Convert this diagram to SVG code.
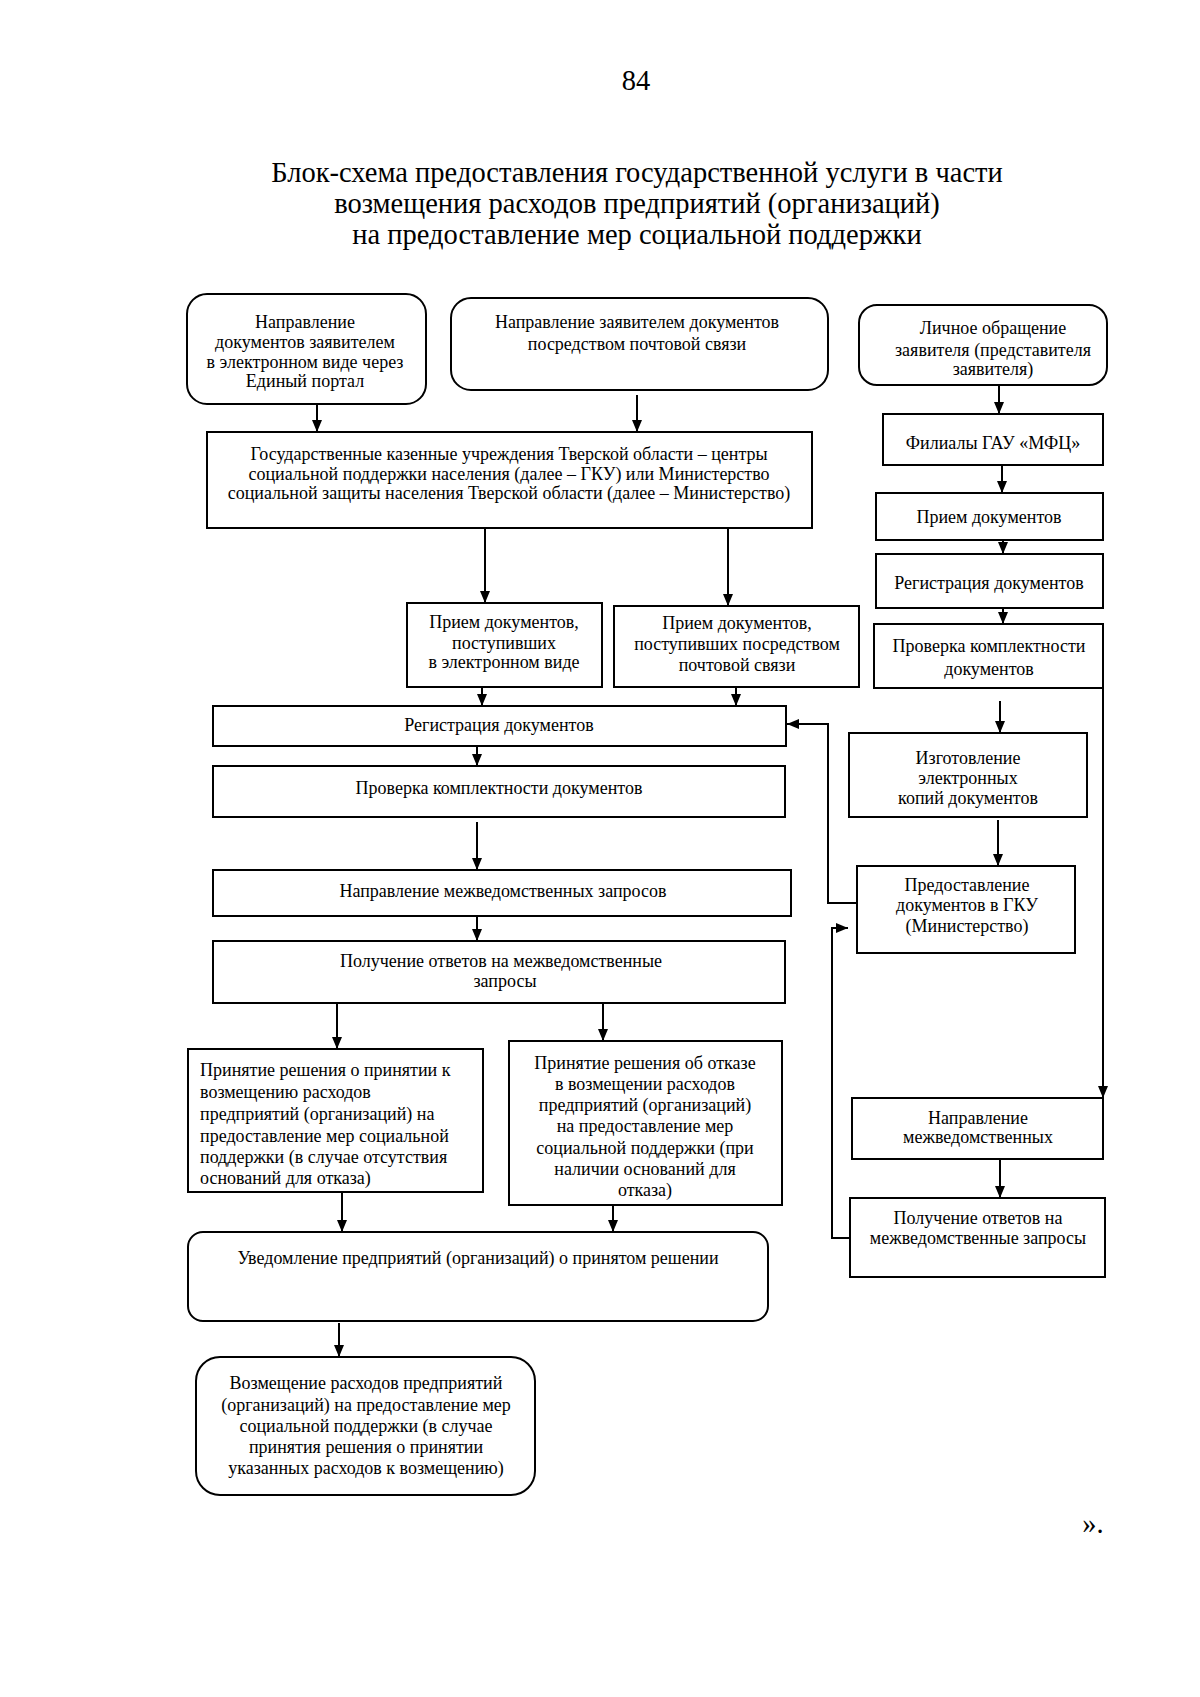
<svg xmlns="http://www.w3.org/2000/svg" width="1200" height="1697" viewBox="0 0 1200 1697">
<style>
.bx{fill:#fff;stroke:#000;stroke-width:2}
.t{font-family:"Liberation Serif","Times New Roman",serif;font-size:18px;fill:#000;text-anchor:middle}
.tl{text-anchor:start}
.ttl{font-family:"Liberation Serif","Times New Roman",serif;font-size:28.5px;fill:#000;text-anchor:middle}
.c{fill:none;stroke:#000;stroke-width:2}
</style>
<defs>
<marker id="ah" viewBox="0 0 12 10" markerWidth="12" markerHeight="10" refX="12" refY="5" orient="auto" markerUnits="userSpaceOnUse">
<path d="M0,0 L12,5 L0,10 z" fill="#000"/>
</marker>
</defs>
<rect width="1200" height="1697" fill="#fff"/>
<text class="ttl" x="636" y="90" font-size="26">84</text>
<text class="ttl" x="637" y="182">Блок-схема предоставления государственной услуги в части</text>
<text class="ttl" x="637" y="213">возмещения расходов предприятий (организаций)</text>
<text class="ttl" x="637" y="244">на предоставление мер социальной поддержки</text>

<g id="n1"><rect class="bx" x="187" y="294" width="239" height="110" rx="20"/>
<text class="t" x="305"><tspan x="305" y="328">Направление</tspan><tspan x="305" y="348">документов заявителем</tspan><tspan x="305" y="368">в электронном виде через</tspan><tspan x="305" y="387">Единый портал</tspan></text></g>
<g id="n2"><rect class="bx" x="451" y="298" width="377" height="92" rx="20"/>
<text class="t" x="637"><tspan x="637" y="328">Направление заявителем документов</tspan><tspan x="637" y="350">посредством почтовой связи</tspan></text></g>
<g id="n3"><rect class="bx" x="859" y="305" width="248" height="80" rx="18"/>
<text class="t" x="993"><tspan x="993" y="334">Личное обращение</tspan><tspan x="993" y="356">заявителя (представителя</tspan><tspan x="993" y="375">заявителя)</tspan></text></g>
<g id="n4"><rect class="bx" x="207" y="432" width="605" height="96"/>
<text class="t" x="509"><tspan x="509" y="460">Государственные казенные учреждения Тверской области – центры</tspan><tspan x="509" y="480">социальной поддержки населения (далее – ГКУ) или Министерство</tspan><tspan x="509" y="499">социальной защиты населения Тверской области (далее – Министерство)</tspan></text></g>
<g id="n5"><rect class="bx" x="883" y="414" width="220" height="51"/>
<text class="t" x="993" y="449">Филиалы ГАУ «МФЦ»</text></g>
<g id="n6"><rect class="bx" x="876" y="493" width="227" height="47"/>
<text class="t" x="989" y="523">Прием документов</text></g>
<g id="n7"><rect class="bx" x="876" y="554" width="227" height="54"/>
<text class="t" x="989" y="589">Регистрация документов</text></g>
<g id="n8"><rect class="bx" x="874" y="624" width="229" height="64"/>
<text class="t" x="989"><tspan x="989" y="652">Проверка комплектности</tspan><tspan x="989" y="675">документов</tspan></text></g>
<g id="n9"><rect class="bx" x="407" y="603" width="195" height="84"/>
<text class="t" x="504"><tspan x="504" y="628">Прием документов,</tspan><tspan x="504" y="649">поступивших</tspan><tspan x="504" y="668">в электронном виде</tspan></text></g>
<g id="n10"><rect class="bx" x="614" y="606" width="245" height="81"/>
<text class="t" x="737"><tspan x="737" y="629">Прием документов,</tspan><tspan x="737" y="650">поступивших посредством</tspan><tspan x="737" y="671">почтовой связи</tspan></text></g>
<g id="n11"><rect class="bx" x="213" y="706" width="573" height="40"/>
<text class="t" x="499" y="731">Регистрация документов</text></g>
<g id="n12"><rect class="bx" x="213" y="766" width="572" height="51"/>
<text class="t" x="499" y="794">Проверка комплектности документов</text></g>
<g id="n13"><rect class="bx" x="849" y="733" width="238" height="84"/>
<text class="t" x="968"><tspan x="968" y="764">Изготовление</tspan><tspan x="968" y="784">электронных</tspan><tspan x="968" y="804">копий документов</tspan></text></g>
<g id="n14"><rect class="bx" x="213" y="870" width="578" height="46"/>
<text class="t" x="503" y="897">Направление межведомственных запросов</text></g>
<g id="n15"><rect class="bx" x="857" y="866" width="218" height="87"/>
<text class="t" x="967"><tspan x="967" y="891">Предоставление</tspan><tspan x="967" y="911">документов в ГКУ</tspan><tspan x="967" y="932">(Министерство)</tspan></text></g>
<g id="n16"><rect class="bx" x="213" y="941" width="572" height="62"/>
<text class="t" x="501"><tspan x="501" y="967">Получение ответов на межведомственные</tspan><tspan x="505" y="987">запросы</tspan></text></g>
<g id="n17"><rect class="bx" x="188" y="1049" width="295" height="143"/>
<text class="t tl" x="200" font-size="18.3"><tspan x="200" y="1076">Принятие решения о принятии к</tspan><tspan x="200" y="1098">возмещению расходов</tspan><tspan x="200" y="1120">предприятий  (организаций) на</tspan><tspan x="200" y="1142">предоставление мер социальной</tspan><tspan x="200" y="1163">поддержки (в случае отсутствия</tspan><tspan x="200" y="1184">оснований для отказа)</tspan></text></g>
<g id="n18"><rect class="bx" x="509" y="1041" width="273" height="164"/>
<text class="t" x="645" font-size="18.3"><tspan x="645" y="1069">Принятие решения об отказе</tspan><tspan x="645" y="1090">в возмещении расходов</tspan><tspan x="645" y="1111">предприятий  (организаций)</tspan><tspan x="645" y="1132">на предоставление мер</tspan><tspan x="645" y="1154">социальной поддержки (при</tspan><tspan x="645" y="1175">наличии оснований для</tspan><tspan x="645" y="1196">отказа)</tspan></text></g>
<g id="n19"><rect class="bx" x="852" y="1098" width="251" height="61"/>
<text class="t" x="978"><tspan x="978" y="1124">Направление</tspan><tspan x="978" y="1143">межведомственных</tspan></text></g>
<g id="n20"><rect class="bx" x="850" y="1198" width="255" height="79"/>
<text class="t" x="978"><tspan x="978" y="1224">Получение ответов на</tspan><tspan x="978" y="1244">межведомственные запросы</tspan></text></g>
<g id="n21"><rect class="bx" x="188" y="1232" width="580" height="89" rx="15"/>
<text class="t" x="478" y="1264">Уведомление предприятий (организаций) о принятом решении</text></g>
<g id="n22"><rect class="bx" x="196" y="1357" width="339" height="138" rx="24"/>
<text class="t" x="366"><tspan x="366" y="1389">Возмещение расходов предприятий</tspan><tspan x="366" y="1411">(организаций) на предоставление мер</tspan><tspan x="366" y="1432">социальной поддержки (в случае</tspan><tspan x="366" y="1453">принятия решения о принятии</tspan><tspan x="366" y="1474">указанных расходов к возмещению)</tspan></text></g>

<g id="connectors">
<path class="c" marker-end="url(#ah)" d="M317,404 V432"/>
<path class="c" marker-end="url(#ah)" d="M637,395 V432"/>
<path class="c" marker-end="url(#ah)" d="M485,528 V603"/>
<path class="c" marker-end="url(#ah)" d="M728,528 V606"/>
<path class="c" marker-end="url(#ah)" d="M482,687 V706"/>
<path class="c" marker-end="url(#ah)" d="M736,687 V706"/>
<path class="c" marker-end="url(#ah)" d="M477,746 V766"/>
<path class="c" marker-end="url(#ah)" d="M477,822 V870"/>
<path class="c" marker-end="url(#ah)" d="M477,916 V941"/>
<path class="c" marker-end="url(#ah)" d="M337,1003 V1049"/>
<path class="c" marker-end="url(#ah)" d="M603,1003 V1041"/>
<path class="c" marker-end="url(#ah)" d="M342,1192 V1232"/>
<path class="c" marker-end="url(#ah)" d="M613,1205 V1232"/>
<path class="c" marker-end="url(#ah)" d="M339,1323 V1357"/>
<path class="c" marker-end="url(#ah)" d="M999,385 V414"/>
<path class="c" marker-end="url(#ah)" d="M1002,465 V493"/>
<path class="c" marker-end="url(#ah)" d="M1003,540 V554"/>
<path class="c" marker-end="url(#ah)" d="M1003,608 V624"/>
<path class="c" marker-end="url(#ah)" d="M1000,701 V733"/>
<path class="c" marker-end="url(#ah)" d="M998,820 V866"/>
<path class="c" marker-end="url(#ah)" d="M1103,688 V1098"/>
<path class="c" marker-end="url(#ah)" d="M1000,1159 V1198"/>
<path class="c" marker-end="url(#ah)" d="M857,903 H828 V724 H787"/>
<path class="c" marker-end="url(#ah)" d="M850,1238 H832 V928 H848"/>
</g>
<text class="ttl" x="1093" y="1533" font-size="24">».</text>
</svg>
